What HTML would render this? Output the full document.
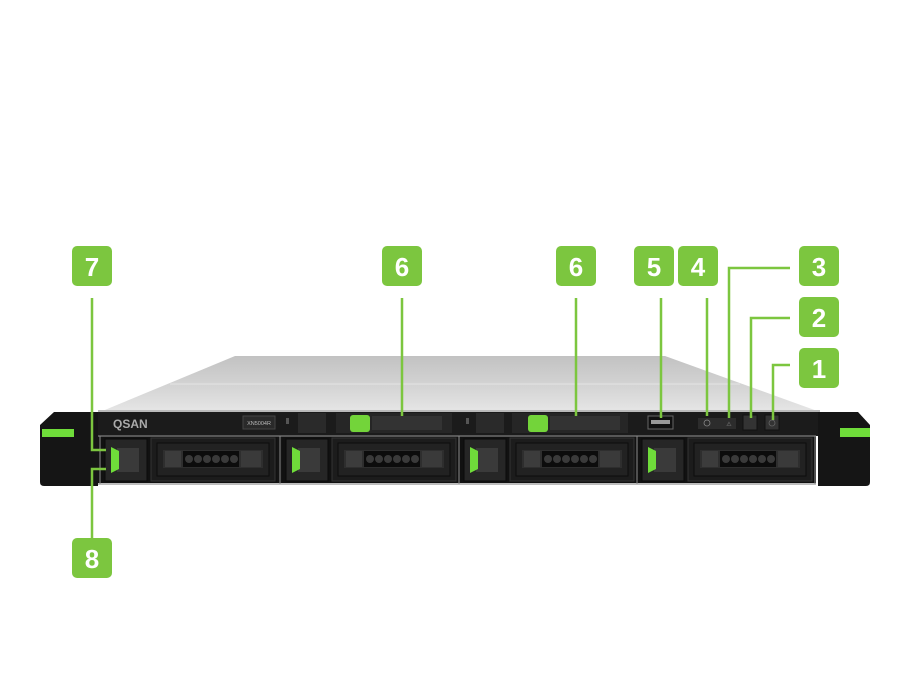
<!DOCTYPE html>
<html><head><meta charset="utf-8"><style>
html,body{margin:0;padding:0;background:#fff;width:920px;height:690px;overflow:hidden}
svg{display:block}
text{font-family:"Liberation Sans",sans-serif}
</style></head><body>
<svg width="920" height="690" viewBox="0 0 920 690" xmlns="http://www.w3.org/2000/svg">
<defs>
<linearGradient id="top" x1="0" y1="0" x2="0" y2="1">
<stop offset="0" stop-color="#c2c2c2"/><stop offset="0.55" stop-color="#d4d4d4"/><stop offset="1" stop-color="#e6e6e6"/>
</linearGradient>
<g id="bay">
<rect x="0" y="0" width="176" height="46" fill="#111"/>
<rect x="4" y="2" width="42" height="42" fill="#262626" stroke="#0a0a0a"/>
<rect x="16" y="11" width="22" height="24" fill="#3a3a3a"/>
<polygon points="10,10 18,14 18,32 10,36" fill="#6fdc3a"/>
<rect x="50" y="1" width="124" height="43" fill="#1c1c1c" stroke="#333"/>
<rect x="56" y="6" width="112" height="33" fill="#222" stroke="#0c0c0c"/>
<rect x="62" y="13" width="100" height="18" fill="#2e2e2e"/>
<rect x="64" y="14" width="16" height="16" fill="#3c3c3c"/>
<rect x="82" y="14" width="56" height="16" fill="#0c0c0c"/>
<g fill="#3a3a3a"><circle cx="88" cy="22" r="4"/><circle cx="97" cy="22" r="4"/><circle cx="106" cy="22" r="4"/><circle cx="115" cy="22" r="4"/><circle cx="124" cy="22" r="4"/><circle cx="133" cy="22" r="4"/></g>
<rect x="140" y="14" width="20" height="16" fill="#3a3a3a"/>
</g>
</defs>

<polygon points="100,412 235,356 665,356 820,412" fill="url(#top)"/>
<line x1="170" y1="384" x2="740" y2="384" stroke="#e4e4e4" stroke-width="1"/>
<rect x="98" y="410" width="722" height="26" fill="#1b1b1b"/>
<line x1="98" y1="411" x2="820" y2="411" stroke="#f0f0f0" stroke-width="1.5"/>
<text x="113" y="428" font-size="12" font-weight="bold" fill="#aaa">QSAN</text>
<rect x="243" y="416" width="32" height="13" fill="#2a2a2a" stroke="#444"/>
<text x="259" y="425" font-size="5.5" fill="#bbb" text-anchor="middle">XN5004R</text>
<rect x="286" y="418" width="3" height="6" fill="#555"/>
<rect x="298" y="413" width="28" height="20" fill="#2a2a2a"/>
<rect x="336" y="413" width="116" height="20" fill="#262626"/>
<rect x="350" y="415" width="20" height="17" rx="3" fill="#73d43a"/>
<rect x="372" y="416" width="70" height="14" fill="#333"/>
<rect x="466" y="418" width="3" height="6" fill="#555"/>
<rect x="476" y="413" width="28" height="20" fill="#2a2a2a"/>
<rect x="512" y="413" width="116" height="20" fill="#262626"/>
<rect x="528" y="415" width="20" height="17" rx="3" fill="#73d43a"/>
<rect x="550" y="416" width="70" height="14" fill="#333"/>
<rect x="648" y="416" width="25" height="13" fill="#111" stroke="#666"/>
<rect x="651" y="420" width="19" height="4" fill="#999"/>
<rect x="698" y="418" width="38" height="11" fill="#2c2c2c"/>
<circle cx="707" cy="423" r="3" fill="none" stroke="#888" stroke-width="0.8"/>
<text x="729" y="426" font-size="6" fill="#888" text-anchor="middle">⚠</text>
<rect x="743" y="415" width="14" height="15" fill="#333" stroke="#111"/>
<rect x="765" y="415" width="14" height="15" fill="#333" stroke="#111"/>
<circle cx="772" cy="423" r="3" fill="none" stroke="#666" stroke-width="0.8"/>
<rect x="98" y="435" width="718" height="50" fill="#141414"/>
<line x1="98" y1="436" x2="816" y2="436" stroke="#9a9a9a" stroke-width="1"/>
<line x1="98" y1="484" x2="816" y2="484" stroke="#bdbdbd" stroke-width="2"/>
<use href="#bay" x="101" y="437"/>
<use href="#bay" x="282" y="437"/>
<use href="#bay" x="460" y="437"/>
<use href="#bay" x="638" y="437"/>
<g stroke="#8a8a8a" stroke-width="1"><line x1="100" y1="436" x2="100" y2="484"/><line x1="280" y1="436" x2="280" y2="484"/><line x1="459" y1="436" x2="459" y2="484"/><line x1="637" y1="436" x2="637" y2="484"/><line x1="815" y1="436" x2="815" y2="484"/></g>
<path d="M40,425 L54,412 L98,412 L98,486 L44,486 Q40,486 40,482 Z" fill="#151515"/>
<rect x="42" y="429" width="32" height="8" fill="#6fdc3a"/>
<path d="M818,412 L858,412 L870,425 L870,482 Q870,486 866,486 L818,486 Z" fill="#151515"/>
<rect x="840" y="428" width="30" height="9" fill="#6fdc3a"/>

<g stroke="#7cc63f" stroke-width="2.5" fill="none">
<polyline points="92,298 92,450 106,450"/>
<polyline points="92,538 92,469 106,469"/>
<line x1="402" y1="298" x2="402" y2="416"/>
<line x1="576" y1="298" x2="576" y2="416"/>
<line x1="661" y1="298" x2="661" y2="418"/>
<line x1="707" y1="298" x2="707" y2="416"/>
<polyline points="790,268 729,268 729,418"/>
<polyline points="790,318 751,318 751,418"/>
<polyline points="790,365 773,365 773,420"/>
</g>
<g fill="#7cc63f">
<rect x="72" y="246" width="40" height="40" rx="5"/>
<rect x="382" y="246" width="40" height="40" rx="5"/>
<rect x="556" y="246" width="40" height="40" rx="5"/>
<rect x="634" y="246" width="40" height="40" rx="5"/>
<rect x="678" y="246" width="40" height="40" rx="5"/>
<rect x="799" y="246" width="40" height="40" rx="5"/>
<rect x="799" y="297" width="40" height="40" rx="5"/>
<rect x="799" y="348" width="40" height="40" rx="5"/>
<rect x="72" y="538" width="40" height="40" rx="5"/>
</g>
<g fill="#fff" font-size="26" font-weight="bold" text-anchor="middle">
<text x="92" y="276">7</text>
<text x="402" y="276">6</text>
<text x="576" y="276">6</text>
<text x="654" y="276">5</text>
<text x="698" y="276">4</text>
<text x="819" y="276">3</text>
<text x="819" y="327">2</text>
<text x="819" y="378">1</text>
<text x="92" y="568">8</text>
</g>
</svg>
</body></html>
